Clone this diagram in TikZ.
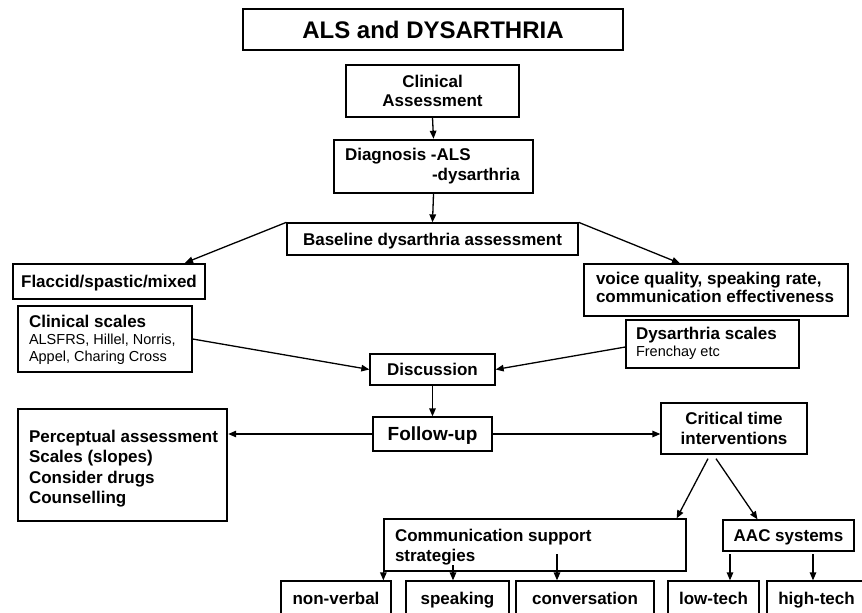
\documentclass[tikz,border=0pt]{standalone}
\usepackage{fontspec}
\setmainfont{Liberation Sans}
\usetikzlibrary{arrows.meta}
\tikzset{
  box/.style={draw, line width=1.3pt, inner sep=0pt, align=center,
    font=\fontsize{17}{19.5}\selectfont\bfseries},
  thickbox/.style={box, line width=2.4pt},
  one/.style={text height=13pt, text depth=1pt},
  arr/.style={-{Triangle[length=8pt,width=6.5pt]}, line width=1.3pt},
}
\newcommand{\smalltxt}{\fontsize{14.5}{17.5}\selectfont\mdseries}
\newcommand{\lbox}[2]{\makebox[#1][l]{\begin{tabular}{@{}l@{}}#2\end{tabular}}}
\begin{document}
\begin{tikzpicture}[x=1pt,y=-1pt]
\useasboundingbox (0,0) rectangle (862,613);
% nodes
\node[box, minimum width=380pt, minimum height=41pt, font=\fontsize{24}{28}\selectfont\bfseries] (title) at (433,29.5) {ALS and DYSARTHRIA};
\node[box, minimum width=173pt, minimum height=52pt] (clin) at (432.5,91) {Clinical\\Assessment};
\node[thickbox, minimum width=199pt, minimum height=53pt] (diag) at (433.5,166.5) {\lbox{177pt}{Diagnosis -ALS\\\hspace*{87pt}-dysarthria}};
\node[box, one, minimum width=291pt, minimum height=32pt] (base) at (432.5,239) {Baseline dysarthria assessment};
\node[thickbox, one, minimum width=192pt, minimum height=35pt] (flac) at (109,281.5) {Flaccid/spastic/mixed};
\node[box, minimum width=174pt, minimum height=66pt] (cscale) at (105,339) {\lbox{152pt}{\rule{0pt}{16pt}Clinical scales\\[-2.5pt]{\smalltxt ALSFRS, Hillel, Norris,}\\[-2.5pt]{\smalltxt Appel, Charing Cross}}};
\node[box, one, minimum width=125pt, minimum height=31pt] (disc) at (432.5,369.5) {Discussion};
\node[box, minimum width=264pt, minimum height=52pt, font=\fontsize{17}{18}\selectfont\bfseries] (voice) at (716,290) {\lbox{240pt}{voice quality, speaking rate,\\communication effectiveness}};
\node[box, minimum width=173pt, minimum height=48pt] (dscale) at (712.5,344) {\lbox{153pt}{Dysarthria scales\\[-2pt]{\smalltxt Frenchay etc}}};
\node[box, one, minimum width=119pt, minimum height=34pt, font=\fontsize{19}{22}\selectfont\bfseries] (follow) at (432.5,434) {Follow-up};
\node[thickbox, minimum width=209pt, minimum height=112pt, font=\fontsize{17}{20.3}\selectfont\bfseries] (perc) at (122.5,465) {\lbox{187pt}{\rule{0pt}{22pt}Perceptual assessment\\Scales (slopes)\\Consider drugs\\Counselling}};
\node[box, minimum width=146pt, minimum height=51pt] (crit) at (734,428.5) {Critical time\\interventions};
\node[box, minimum width=302pt, minimum height=52pt] (comm) at (535,545) {\lbox{280pt}{\rule{0pt}{19pt}Communication support\\strategies}};
\node[box, one, minimum width=131pt, minimum height=31pt] (aac) at (788.5,535.5) {AAC systems};
\node[box, one, minimum width=110pt, minimum height=35pt] (nv) at (336,598.5) {non-verbal};
\node[box, one, minimum width=103pt, minimum height=35pt] (sp) at (457.5,598.5) {speaking};
\node[box, one, minimum width=138pt, minimum height=35pt] (conv) at (585,598.5) {conversation};
\node[box, one, minimum width=91pt, minimum height=35pt] (low) at (713.5,598.5) {low-tech};
\node[box, one, minimum width=99pt, minimum height=35pt] (high) at (816.5,598.5) {high-tech};
% helper coordinates
\coordinate (flacin) at ([xshift=76pt]flac.north);
\coordinate (voicein) at ([xshift=-36pt]voice.north);
\coordinate (c1) at ([xshift=-26pt,yshift=-4pt]crit.south);
\coordinate (c2) at ([xshift=-18pt,yshift=-4pt]crit.south);
\coordinate (commin) at ([xshift=-10pt]comm.north east);
\coordinate (aacin) at ([xshift=-31pt]aac.north);
\coordinate (s1) at (453,565);
\coordinate (s2) at (557,554);
\coordinate (s3) at (730,554);
\coordinate (s4) at (813,554);
% connectors
\draw[arr] (clin.south) -- (diag.north);
\draw[arr] (diag.south) -- (base.north);
\draw[arr] (base.north west) -- (flacin);
\draw[arr] (base.north east) -- (voicein);
\draw[arr] (cscale.east) -- (disc.west);
\draw[arr] ([yshift=-3pt]dscale.west) -- (disc.east);
\draw[arr] (disc.south) -- (follow.north);
\draw[arr] (follow.west) -- (follow.west -| perc.east);
\draw[arr] (follow.east) -- (follow.east -| crit.west);
\draw[arr] (c1) -- (commin);
\draw[arr] (c2) -- (aacin);
\draw[arr] (comm.south west) -- (comm.south west |- nv.north);
\draw[arr] (s1) -- (s1 |- sp.north);
\draw[arr] (s2) -- (s2 |- conv.north);
\draw[arr] (s3) -- (s3 |- low.north);
\draw[arr] (s4) -- (s4 |- high.north);
\end{tikzpicture}
\end{document}
